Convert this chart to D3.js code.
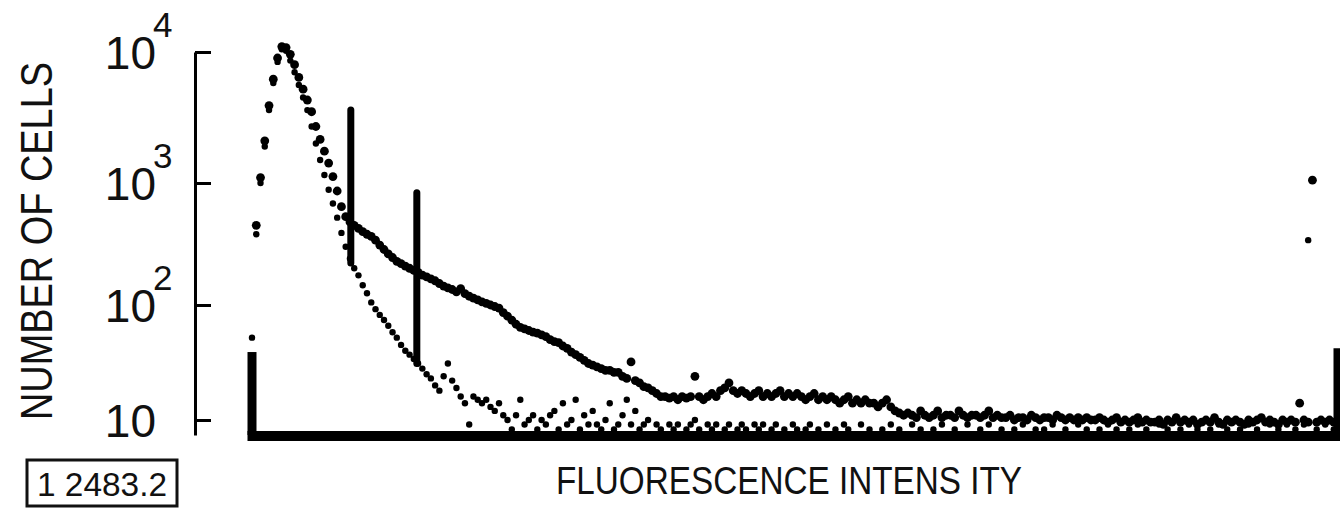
<!DOCTYPE html>
<html><head><meta charset="utf-8">
<script src="https://cdn.jsdelivr.net/npm/d3@7"></script>
<style>body{margin:0;background:#fff}svg{display:block}</style>
</head><body>
<svg id="c" width="1340" height="512"></svg>
<script>
// ---- data ----
const channels = d3.range(256);
const controlCounts = [
52,380,1000,1900,3600,5800,8400,10500,10200,8600,
7000,5600,4500,3600,2700,2000,1500,1150,880,680,
520,390,300,240,200,175,145,125,105,92,
82,74,66,58,52,45,40,37,34,31,
28,25,23,20,18,24,31,22,19,16,
14,9,16,15,14,15,13,12,14,11,
10,8,11,15,9,10,11,8,10,9,
11,12,8,14,9,10,15,8,11,9,
12,9,8,10,14,8,9,11,15,9,
12,8,9,10,0,9,8,0,9,8,
9,0,8,9,10,8,0,9,8,9,
0,8,9,0,8,9,8,0,9,8,
9,0,8,9,0,8,0,9,8,0,
8,9,0,8,0,9,0,8,0,9,
8,0,0,9,0,8,0,0,8,0,
9,0,8,0,0,9,0,8,0,0,
8,0,9,0,0,8,0,0,9,0,
0,8,0,9,0,0,8,0,0,8,
0,9,0,0,8,0,8,0,9,0,
0,8,0,0,9,0,8,0,0,8,
0,9,0,8,0,0,8,0,9,0,
8,0,0,9,0,8,0,0,8,0,
9,0,8,0,0,8,0,9,0,8,
0,0,8,0,9,0,8,0,0,9,
0,8,0,9,0,8,0,9,340,0,
8,0,9,0,8,38];
const stainedCounts = [
39,450,1100,2100,3900,6200,9000,11000,10800,9600,
8000,6400,5200,4300,3500,2700,2150,1750,1420,1120,
860,640,530,480,450,425,400,380,365,340,
310,285,262,245,228,218,208,200,192,185,
176,170,164,158,150,143,138,134,128,136,
124,118,114,110,106,103,100,97,94,86,
80,74,68,64,62,60,58,57,55,53,
50,48,47,44,42,39,37,35,33,31,
30,29,28,27,27,26,26,24,23,32,
22,21,19.5,19,18,17,16,16,15.5,16,
15,16,15.5,16,24,16,15,16,17,16,
18,19,21,18,17,18,17,16,17,18,
16,17,16,17,18,16,17,16,17,16,
15,16,17,15,16,15,16,15,14,15,
16,14,15,14,15,14,14,13,14,15,
13,12,11.5,11,11.5,11,10.5,12,11,10.5,
11,12,10.5,11,11,10.5,12,11,10.5,11,
11,10.5,11,12,10.5,11,10.5,10.5,11,10,
10.5,10.5,10,11,10.5,10,10.5,10.5,10,11,
10.5,10,10.5,10,10.5,10,10.5,10,10,10.5,
10,9.5,10,10.5,9.5,10,9.5,10,10.5,9.5,
10,9.5,9.5,10,9,10,9.5,10.5,9.5,10,
9.5,10,9,9.5,10,9.5,10.5,9.5,9,10,
9.5,10,9.5,9,10,9.5,10,10.5,9.5,10,
9.5,9,10,9.5,10,9.5,14,10,9.5,1050,
9.5,10,9.5,10,9.5,42];
const gateChannels = [23.2, 38.7];
const gateLow = [221, 31];
const gateHigh = [3610, 830];
const yTickValues = [10, 100, 1000, 10000];
const yTickExponents = ["", "2", "3", "4"];
const FLOOR = 7;

// ---- scales ----
const svg = d3.select("#c");
const x = d3.scaleLinear().domain([0, 255]).range([252, 1338]);
const y = d3.scaleLog().domain([FLOOR, 10, 100, 1000, 10000]).range([435, 420, 305, 183, 52]);
const yc = v => y(Math.max(v, FLOOR));
const font = "'Liberation Sans', Arial, sans-serif";

// ---- y axis ----
const axisX = 195;
const ax = svg.append("g").attr("transform", `translate(${axisX},0)`)
  .call(d3.axisRight(y).tickValues(yTickValues).tickSize(16).tickSizeOuter(0).tickFormat(""));
ax.select(".domain").attr("stroke", "#000").attr("stroke-width", 3);
ax.selectAll(".tick line").attr("stroke", "#000").attr("stroke-width", 3);

const labels = svg.append("g").attr("font-family", font).attr("fill", "#111");
yTickValues.forEach((v, i) => {
  const ty = y(v);
  labels.append("text").attr("x", 156).attr("y", ty + 17)
    .attr("text-anchor", "end").attr("font-size", 46).text("10");
  if (yTickExponents[i]) {
    labels.append("text").attr("x", 153).attr("y", ty - 15)
      .attr("font-size", 35).text(yTickExponents[i]);
  }
});

// ---- baseline ----
svg.append("line")
  .attr("x1", x(0) - 4.5).attr("x2", x(255) + 4.5)
  .attr("y1", y(FLOOR) + 1).attr("y2", y(FLOOR) + 1)
  .attr("stroke", "#000").attr("stroke-width", 10);

// ---- edge channel bars (stained) ----
[0, 255].forEach(ch => {
  svg.append("line")
    .attr("x1", x(ch)).attr("x2", x(ch))
    .attr("y1", y(FLOOR)).attr("y2", yc(stainedCounts[ch]))
    .attr("stroke", "#000").attr("stroke-width", 9);
});

// ---- control series (small dots) ----
svg.append("g").selectAll("circle")
  .data(channels.filter(c => controlCounts[c] > FLOOR))
  .join("circle")
  .attr("cx", c => x(c)).attr("cy", c => yc(controlCounts[c]))
  .attr("r", 3.2).attr("fill", "#000");

// ---- stained series (heavy dots) ----
svg.append("g").selectAll("circle")
  .data(channels.filter(c => c > 0 && c < 255 && stainedCounts[c] > FLOOR))
  .join("circle")
  .attr("cx", c => x(c)).attr("cy", c => yc(stainedCounts[c]))
  .attr("r", 4.4).attr("fill", "#000");

// ---- gate markers ----
gateChannels.forEach((g, i) => {
  svg.append("line")
    .attr("x1", x(g)).attr("x2", x(g))
    .attr("y1", y(gateHigh[i])).attr("y2", y(gateLow[i]))
    .attr("stroke", "#000").attr("stroke-width", 7).attr("stroke-linecap", "round");
});

// ---- titles ----
svg.append("text")
  .attr("transform", "translate(52,241) rotate(-90)")
  .attr("text-anchor", "middle").attr("font-family", font)
  .attr("font-size", 44).attr("fill", "#111")
  .attr("textLength", 358).attr("lengthAdjust", "spacingAndGlyphs")
  .text("NUMBER OF CELLS");

svg.append("text")
  .attr("x", 556).attr("y", 494).attr("font-family", font)
  .attr("font-size", 38).attr("fill", "#111")
  .attr("textLength", 466).attr("lengthAdjust", "spacingAndGlyphs")
  .text("FLUORESCENCE INTENS ITY");

// ---- figure id box ----
svg.append("rect").attr("x", 27).attr("y", 460).attr("width", 150).attr("height", 46)
  .attr("fill", "none").attr("stroke", "#111").attr("stroke-width", 3);
svg.append("text")
  .attr("x", 37).attr("y", 496).attr("font-family", font)
  .attr("font-size", 33).attr("fill", "#111")
  .attr("textLength", 130).attr("lengthAdjust", "spacingAndGlyphs")
  .text("1 2483.2");
</script>
</body></html>
